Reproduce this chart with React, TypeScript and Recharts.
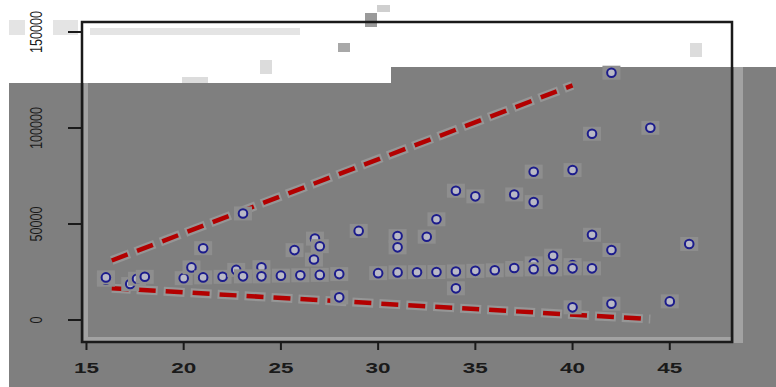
import { ReferenceArea, Scatter, ScatterChart, XAxis, YAxis } from "recharts";

const xTicks = [15, 20, 25, 30, 35, 40, 45];
const yTicks = [0, 50000, 100000, 150000];

const pointX = [
  16, 16, 17.25, 17.6, 18, 20, 20.4, 21, 21, 22, 22.7, 23.05, 23.05, 24, 24, 25, 25.7, 26, 26.75, 26.7, 27, 27, 28, 28,
  29, 30, 31, 31, 31, 32, 32.5, 33, 33, 34, 34, 34, 35, 35, 36, 37, 37, 37, 38, 38, 38, 38, 39, 39, 40, 40, 40, 40, 41,
  41, 41, 42, 42, 42, 44, 45, 46,
];
const pointY = [
  21000, 22200, 18750, 21500, 22500, 21800, 27400, 22200, 37400, 22500, 26100, 22750, 55500, 27500, 22750, 23100, 36400,
  23300, 42400, 31500, 38450, 23500, 23900, 11800, 46400, 24400, 24800, 43700, 37850, 24900, 43400, 25000, 52450, 25300,
  16500, 67350, 25600, 64400, 25900, 26200, 27100, 65400, 29500, 26400, 61400, 77250, 26400, 33500, 28600, 26900, 6600,
  78100, 26900, 44400, 97000, 36450, 8500, 128800, 100100, 9700, 39600,
];

const upperLineX = [16.3, 40];
const upperLineY = [31000, 122200];
const lowerLineX = [16.3, 44];
const lowerLineY = [16550, 500];

const points = pointX.map((x, i) => ({ x, y: pointY[i] }));
const upperLine = upperLineX.map((x, i) => ({ x, y: upperLineY[i] }));
const lowerLine = lowerLineX.map((x, i) => ({ x, y: lowerLineY[i] }));

const xDomain = [14.77, 48.2];
const yDomain = [-11450, 155200];

const ink = "#1a1a1a";
const gray = "#7f7f7f";

function XTick({ x, y, payload }: any) {
  const label = String(payload.value);
  return (
    <text x={x} y={y + 15} textAnchor="middle" dominantBaseline="central" fontSize={15} fontWeight={700}
      fontFamily="Liberation Sans, Arial, sans-serif" fill={ink} textLength={12.5 * label.length} lengthAdjust="spacingAndGlyphs">
      {label}
    </text>
  );
}

function YTick({ x, y, payload }: any) {
  const label = String(payload.value);
  const cx = x - 29;
  return (
    <text x={cx} y={y} transform={`rotate(-90 ${cx} ${y})`} textAnchor="middle" dominantBaseline="central" fontSize={16}
      fontFamily="Liberation Sans, Arial, sans-serif" fill={ink} textLength={7 * label.length} lengthAdjust="spacingAndGlyphs">
      {label}
    </text>
  );
}

function Ring({ cx, cy }: any) {
  return (
    <g>
      <rect x={cx - 9} y={cy - 7} width={18} height={14} fill="#8e8e8e" />
      <circle cx={cx} cy={cy} r={4.3} fill="#b9b9c6" stroke="#1c1c8c" strokeWidth={2} />
    </g>
  );
}

const noDot = () => <g />;

const block = (left: number, top: number, width: number, height: number, background: string) => (
  <div style={{ position: "absolute", left, top, width, height, background }} />
);

export default function App() {
  return (
    <div style={{ position: "absolute", left: 0, top: 0, width: 776, height: 387, background: "#fff", overflow: "hidden" }}>
      {block(9, 83, 767, 304, gray)}
      {block(391, 67, 385, 16, gray)}
      {block(90, 28, 210, 7, "#e4e4e4")}
      {block(9, 20, 16, 15, "#e4e4e4")}
      {block(53, 20, 25, 15, "#e4e4e4")}
      {block(182, 77, 26, 6, "#dcdcdc")}
      {block(365, 13, 12, 14, "#9a9a9a")}
      {block(377, 5, 13, 7, "#cfcfcf")}
      {block(338, 43, 12, 9, "#a8a8a8")}
      {block(260, 60, 12, 14, "#dcdcdc")}
      {block(690, 43, 12, 14, "#dcdcdc")}
      {block(84, 83, 4, 259, "#a2a2a2")}
      {block(84, 337, 648, 4, "#a2a2a2")}
      {block(734, 67, 9, 276, "#a2a2a2")}
      <div style={{ position: "absolute", left: 0, top: 0 }}>
        <ScatterChart width={776} height={387} margin={{ top: 22, right: 44, bottom: 0, left: 0 }}>
          <XAxis type="number" dataKey="x" domain={xDomain} ticks={xTicks} allowDataOverflow height={45}
            axisLine={false} tickLine={{ stroke: ink, strokeWidth: 2 }} tickSize={8} tick={<XTick />} />
          <YAxis type="number" dataKey="y" domain={yDomain} ticks={yTicks} allowDataOverflow width={82}
            axisLine={false} tickLine={{ stroke: ink, strokeWidth: 2 }} tickSize={14} tick={<YTick />} />
          <Scatter data={upperLine} isAnimationActive={false} shape={noDot}
            line={{ stroke: "#969696", strokeWidth: 9, strokeDasharray: "21 6", strokeDashoffset: 2 }} />
          <Scatter data={lowerLine} isAnimationActive={false} shape={noDot}
            line={{ stroke: "#969696", strokeWidth: 9, strokeDasharray: "21 6", strokeDashoffset: 2 }} />
          <Scatter data={upperLine} isAnimationActive={false} shape={noDot}
            line={{ stroke: "#b30000", strokeWidth: 4.5, strokeDasharray: "17 10" }} />
          <Scatter data={lowerLine} isAnimationActive={false} shape={noDot}
            line={{ stroke: "#b30000", strokeWidth: 4.5, strokeDasharray: "17 10" }} />
          <Scatter data={points} isAnimationActive={false} shape={<Ring />} />
          <ReferenceArea x1={xDomain[0]} x2={xDomain[1]} y1={yDomain[0]} y2={yDomain[1]} fill="none" stroke={ink}
            strokeWidth={2.5} ifOverflow="visible" />
        </ScatterChart>
      </div>
    </div>
  );
}
